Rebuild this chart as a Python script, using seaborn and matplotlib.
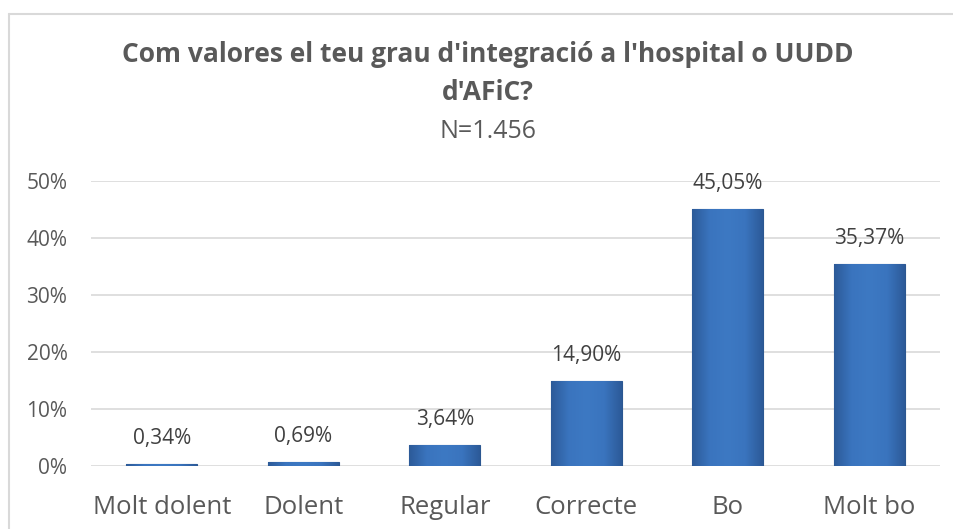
import numpy as np
import pandas as pd
import seaborn as sns
import matplotlib.pyplot as plt
from matplotlib.lines import Line2D
from matplotlib.colors import LinearSegmentedColormap

categories = ['Molt dolent', 'Dolent', 'Regular', 'Correcte', 'Bo', 'Molt bo']
percentages = [0.34, 0.69, 3.64, 14.90, 45.05, 35.37]
y_ticks = [0, 10, 20, 30, 40, 50]

title_line1 = "Com valores el teu grau d'integració a l'hospital o UUDD"
title_line2 = "d'AFiC?"
subtitle = 'N=1.456'

sns.set_style('white')
plt.rcParams['font.family'] = ['Open Sans', 'DejaVu Sans']
text_grey = '#595959'

df = pd.DataFrame({'categoria': categories, 'pct': percentages})

fig = plt.figure(figsize=(9.54, 5.29), dpi=100)
ax = fig.add_axes([91 / 954, 1 - 466 / 529, (940 - 91) / 954, (466 - 181) / 529])

sns.barplot(data=df, x='categoria', y='pct', color='#3B73B9', width=0.5,
            saturation=1, edgecolor='#2B5791', linewidth=0.8, ax=ax, zorder=3)

# degradat horitzontal per imitar el bisell d'Excel
bevel = LinearSegmentedColormap.from_list(
    'bevel', ['#2C5A98', '#3A74BE', '#3D79C3', '#3A74BE', '#2C5A98'])
grad = np.linspace(0, 1, 256).reshape(1, -1)
for patch in ax.patches:
    x0, y0 = patch.get_x(), patch.get_y()
    w, h = patch.get_width(), patch.get_height()
    im = ax.imshow(grad, cmap=bevel, aspect='auto', zorder=4,
                   extent=[x0, x0 + w, y0, y0 + h], origin='lower')
    im.set_clip_path(patch)

ax.set_xlim(-0.5, len(categories) - 0.5)
ax.set_ylim(0, 50)
ax.set_yticks(y_ticks)
ax.set_yticklabels([f'{t}%' for t in y_ticks])
ax.set_xlabel('')
ax.set_ylabel('')

for t in y_ticks:
    ax.axhline(t, color='#D9D9D9', lw=1.2, zorder=1)

for s in ax.spines.values():
    s.set_visible(False)

ax.tick_params(axis='x', length=0, pad=21, labelsize=18.5, labelcolor=text_grey)
ax.tick_params(axis='y', length=0, pad=17, labelsize=15, labelcolor=text_grey)

labels = [f'{v:.2f}%'.replace('.', ',') for v in percentages]
ax.bar_label(ax.containers[0], labels=labels, padding=11, fontsize=15,
             color='#404040')

fig.text(488 / 954, 1 - 55 / 529, title_line1, ha='center', va='center',
         fontsize=19, fontweight='bold', color=text_grey)
fig.text(488 / 954, 1 - 93 / 529, title_line2, ha='center', va='center',
         fontsize=19, fontweight='bold', color=text_grey)
fig.text(488 / 954, 1 - 132 / 529, subtitle, ha='center', va='center',
         fontsize=18, color=text_grey)

# marc del gràfic
fig.add_artist(Line2D([9.5 / 954, 1], [1 - 13.5 / 529] * 2,
                      transform=fig.transFigure, color='#D9D9D9', lw=1.5))
fig.add_artist(Line2D([9.5 / 954] * 2, [0, 1 - 13.5 / 529],
                      transform=fig.transFigure, color='#D9D9D9', lw=1.5))

fig.savefig('out.png', dpi=100)
